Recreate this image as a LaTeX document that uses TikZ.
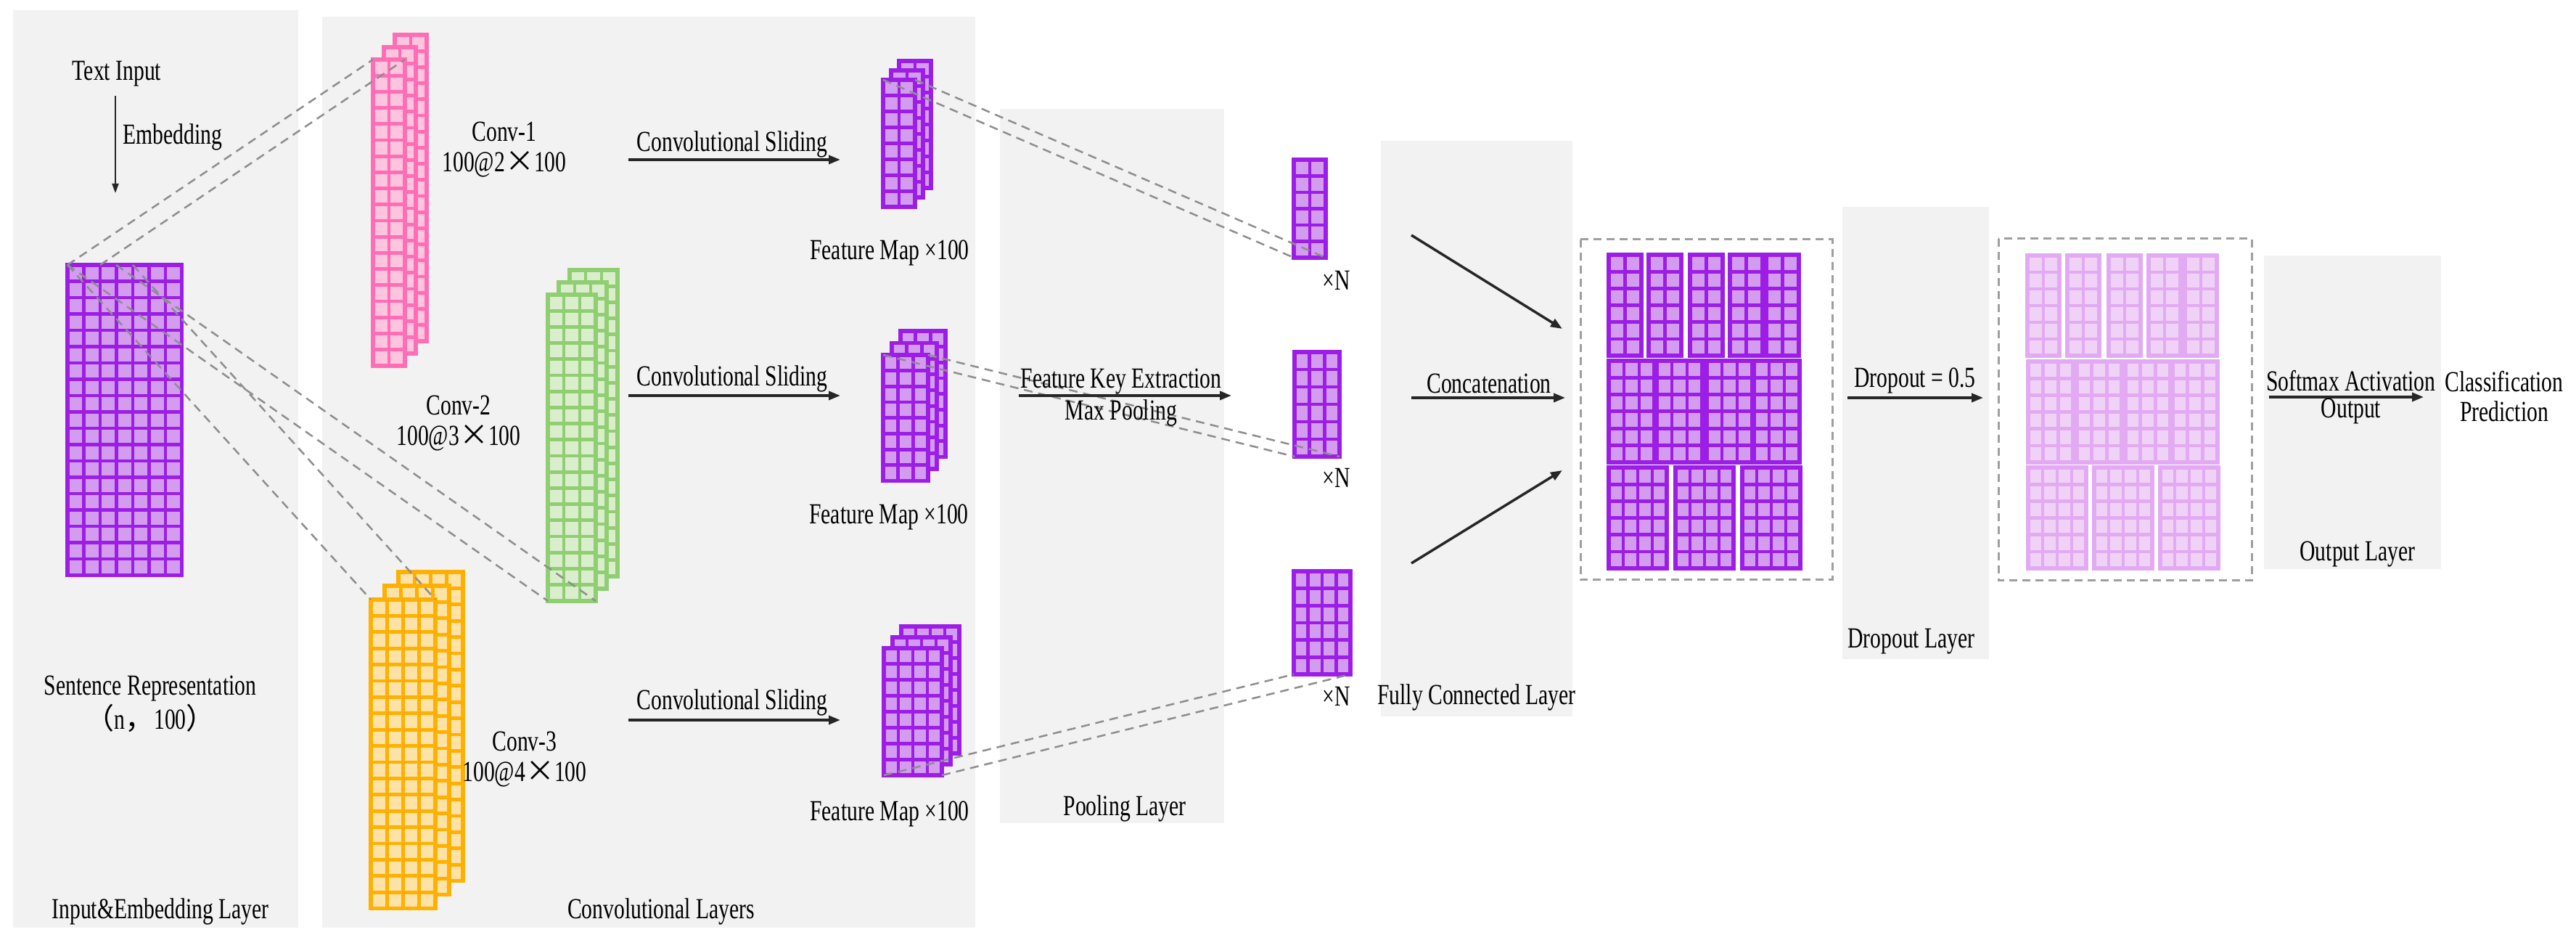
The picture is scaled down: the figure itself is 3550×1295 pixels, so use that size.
\documentclass[tikz,border=0pt]{standalone}
\usepackage{fontspec}
\setmainfont{Liberation Serif}[FakeStretch=0.74]
\newfontfamily\cjk{Noto Sans CJK SC}
\usetikzlibrary{arrows.meta}
\definecolor{panel}{HTML}{F2F2F2}
\definecolor{dgray}{HTML}{8E8E8E}
\definecolor{purS}{HTML}{9C1EE6}
\definecolor{purF}{HTML}{D49CEE}
\definecolor{lpS}{HTML}{E2AAF2}
\definecolor{lpF}{HTML}{F0D2F7}
\definecolor{pinkS}{HTML}{FF6EB4}
\definecolor{pinkF}{HTML}{FFC4DE}
\definecolor{grnS}{HTML}{8FCF72}
\definecolor{grnF}{HTML}{DAEECD}
\definecolor{orgS}{HTML}{FFB000}
\definecolor{orgF}{HTML}{FFE2A6}
% #1 x, #2 y, #3 cols, #4 rows, #5 cell w, #6 cell h, #7 scheme
\newcommand\blk[7]{%
  \fill[#7F] (#1,#2) rectangle ++({#3*#5},{#4*#6});
  \foreach \ii in {1,...,#3}{\foreach \jj in {1,...,#4}{%
    \draw[draw=#7S, line width=0.048cm] ({#1+(\ii-1)*#5},{#2+(\jj-1)*#6}) rectangle ++(#5,#6);}}
  \draw[draw=#7S, line width=0.055cm] (#1,#2) rectangle ++({#3*#5},{#4*#6});
}
% stacked three layers: #7 dx, #8 dy, #9 scheme
\newcommand\stk[9]{%
  \blk{#1+2*#7}{#2+2*#8}{#3}{#4}{#5}{#6}{#9}
  \blk{#1+#7}{#2+#8}{#3}{#4}{#5}{#6}{#9}
  \blk{#1}{#2}{#3}{#4}{#5}{#6}{#9}
}
\tikzset{
  lbl/.style={font=\fontsize{11.4pt}{11.7pt}\selectfont, inner sep=0pt, align=center, text=black},
  dashline/.style={draw=dgray, line width=0.025cm, dash pattern=on 0.12cm off 0.08cm},
  dbox/.style={draw=dgray!85, line width=0.03cm, dash pattern=on 0.11cm off 0.07cm},
  flow/.style={draw=black!85, line width=0.035cm, -{Triangle[length=0.16cm,width=0.12cm]}},
  thinflow/.style={draw=black!85, line width=0.02cm, -{Triangle[length=0.13cm,width=0.09cm]}},
}
\begin{document}
\begin{tikzpicture}[x=0.01cm,y=-0.01cm]
\useasboundingbox (0,0) rectangle (3550,1295);
\fill[white] (0,0) rectangle (3550,1295);
% panels
\fill[panel] (18,14) rectangle (411,1278);
\fill[panel] (444,23) rectangle (1344,1278);
\fill[panel] (1378,150) rectangle (1687,1134);
\fill[panel] (1903,194) rectangle (2167,987);
\fill[panel] (2539,285) rectangle (2741,908);
\fill[panel] (3120,352) rectangle (3364,784);

% input and convolution blocks
\blk{93}{365}{7}{19}{22.5}{22.5}{pur}
\stk{514}{82}{2}{19}{22}{22.2}{15}{-17}{pink}
\stk{755}{406}{3}{19}{22}{22.2}{15}{-17}{grn}
\stk{511}{826}{4}{19}{22.25}{22.4}{19}{-19}{org}
% feature maps
\stk{1217}{110}{2}{8}{22}{21.9}{11}{-13}{pur}
\stk{1217}{489}{3}{8}{20.7}{21.7}{12}{-16.5}{pur}
\stk{1218}{893}{4}{8}{20}{21.9}{12}{-15}{pur}
% pooled vectors
\blk{1783}{220}{2}{6}{22}{22.5}{pur}
\blk{1784}{485}{3}{6}{20.7}{24}{pur}
\blk{1783}{787}{4}{6}{19.5}{23.7}{pur}

% concatenated block
\draw[dbox] (2178,330) rectangle (2525,799);
\foreach \xx in {2217,2272,2329,2384,2434} {\blk{\xx}{351}{2}{6}{22.5}{23.2}{pur}}
\foreach \xx in {2217,2283,2352,2417} {\blk{\xx}{497}{3}{6}{21}{23.3}{pur}}
\foreach \xx in {2217,2309,2401} {\blk{\xx}{644}{4}{6}{20}{23.2}{pur}}
% dropout block
\draw[dbox] (2754,329) rectangle (3103,800);
\foreach \xx in {2794,2849,2906,2961,3011} {\blk{\xx}{352}{2}{6}{22}{23}{lp}}
\foreach \xx in {2795,2862,2929,2994} {\blk{\xx}{498}{3}{6}{20.7}{23.2}{lp}}
\foreach \xx in {2795,2886,2977} {\blk{\xx}{644}{4}{6}{20}{23.2}{lp}}

% connector end points
\coordinate (inTL) at (93,365);
\coordinate (inA) at (138,365);
\coordinate (inB) at (160,365);
\coordinate (inC) at (183,365);
\coordinate (c1TL) at (514,82);
\coordinate (c1TR) at (558,82);
\coordinate (c2BL) at (755,828);
\coordinate (c2BR) at (821,828);
\coordinate (c3TL) at (511,826);
\coordinate (c3TR) at (600,826);
\coordinate (f1TL) at (1217,110);
\coordinate (f1TR) at (1261,110);
\coordinate (f2TL) at (1217,489);
\coordinate (f2TR) at (1279,489);
\coordinate (f3BL) at (1218,1068);
\coordinate (f3BR) at (1298,1068);
\coordinate (p1BL) at (1783,355);
\coordinate (p1BR) at (1827,355);
\coordinate (p2BL) at (1784,629);
\coordinate (p2BR) at (1846,629);
\coordinate (p3BL) at (1783,929);
\coordinate (p3BR) at (1861,929);

% dashed projections
\draw[dashline] (inTL) -- (c1TL);
\draw[dashline] (inA) -- (c1TR);
\draw[dashline] (inTL) -- (c2BL);
\draw[dashline] (inB) -- (c2BR);
\draw[dashline] (inTL) -- (c3TL);
\draw[dashline] (inC) -- (c3TR);
\draw[dashline] (f1TL) -- (p1BL);
\draw[dashline] (f1TR) -- (p1BR);
\draw[dashline] (f2TL) -- (p2BL);
\draw[dashline] (f2TR) -- (p2BR);
\draw[dashline] (f3BL) -- (p3BL);
\draw[dashline] (f3BR) -- (p3BR);

% texts
\node[lbl] (tin) at (161,102) {Text Input};
\coordinate (embS) at (159,132);
\coordinate (embE) at (159,266);
\draw[thinflow] (embS) -- (embE);
\node[lbl, anchor=west] (emb) at (169,189) {Embedding};
\node[lbl] (sr) at (207,970) {Sentence Representation\\{\cjk （}n{\cjk ，}100{\cjk ）}};
\node[lbl] (l1) at (221,1256) {Input\&Embedding Layer};
\node[lbl] (cv1) at (695,206) {Conv-1\\100@2{\cjk ×}100};
\node[lbl] (cv2) at (632,583) {Conv-2\\100@3{\cjk ×}100};
\node[lbl] (cv3) at (723,1046) {Conv-3\\100@4{\cjk ×}100};
\node[lbl] (l2) at (911,1256) {Convolutional Layers};

\coordinate (s1a) at (866,220); \coordinate (s1b) at (1158,220);
\coordinate (s2a) at (866,545); \coordinate (s2b) at (1158,545);
\coordinate (s3a) at (866,992); \coordinate (s3b) at (1158,992);
\draw[flow] (s1a) -- (s1b);
\draw[flow] (s2a) -- (s2b);
\draw[flow] (s3a) -- (s3b);
\node[lbl] (cs1) at (1009,199) {Convolutional Sliding};
\node[lbl] (cs2) at (1009,522) {Convolutional Sliding};
\node[lbl] (cs3) at (1009,968) {Convolutional Sliding};
\node[lbl] (fm1) at (1226,348) {Feature Map ×100};
\node[lbl] (fm2) at (1225,712) {Feature Map ×100};
\node[lbl] (fm3) at (1226,1121) {Feature Map ×100};

\coordinate (mpa) at (1404,545); \coordinate (mpb) at (1697,545);
\draw[flow] (mpa) -- (mpb);
\node[lbl] (fk) at (1545,526) {Feature Key Extraction};
\node[lbl] (mp) at (1545,569) {Max Pooling};
\node[lbl] (l3) at (1550,1114) {Pooling Layer};
\node[lbl] (xn1) at (1842,386) {×N};
\node[lbl] (xn2) at (1842,658) {×N};
\node[lbl] (xn3) at (1842,959) {×N};

\coordinate (fca) at (1945,324); \coordinate (fcb) at (2153,453);
\coordinate (fcc) at (1945,548); \coordinate (fcd) at (2157,548);
\coordinate (fce) at (1945,776); \coordinate (fcf) at (2153,648);
\draw[flow] (fca) -- (fcb);
\draw[flow] (fcc) -- (fcd);
\draw[flow] (fce) -- (fcf);
\node[lbl] (cc) at (2052,528) {Concatenation};
\node[lbl] (l4) at (2035,961) {Fully Connected Layer};

\coordinate (dpa) at (2546,548); \coordinate (dpb) at (2733,548);
\draw[flow] (dpa) -- (dpb);
\node[lbl] (dp) at (2639,524) {Dropout = 0.5};
\node[lbl] (l5) at (2634,884) {Dropout Layer};

\coordinate (sma) at (3127,547); \coordinate (smb) at (3340,547);
\draw[flow] (sma) -- (smb);
\node[lbl] (sm) at (3240,525) {Softmax Activation};
\node[lbl] (so) at (3240,567) {Output};
\node[lbl] (l6) at (3249,764) {Output Layer};
\node[lbl] (cp) at (3451,546) {Classification\\Prediction};
\end{tikzpicture}
\end{document}
